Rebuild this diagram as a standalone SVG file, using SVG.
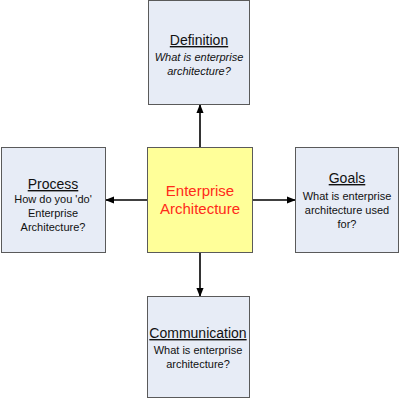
<svg xmlns="http://www.w3.org/2000/svg" width="400" height="400" viewBox="0 0 400 400">
<style>
.box{fill:#e7ecf6;stroke:#5a5a5a;stroke-width:1}
.center{fill:#ffff99;stroke:#5a5a5a;stroke-width:1}
.t{font-family:"Liberation Sans",Arial,sans-serif;font-size:14px;fill:#111;text-anchor:middle;text-decoration:underline}
.s{font-family:"Liberation Sans",Arial,sans-serif;font-size:11px;fill:#111;text-anchor:middle}
.i{font-style:italic}
.c{font-family:"Liberation Sans",Arial,sans-serif;font-size:15px;fill:#ff2a1a;text-anchor:middle}
.conn{stroke:#000;stroke-width:1.6;fill:none;marker-end:url(#ah)}
</style>
<defs>
<marker id="ah" viewBox="0 0 10 10" refX="9" refY="5" markerWidth="9" markerHeight="9" markerUnits="userSpaceOnUse" orient="auto">
<path d="M0,1 L10,5 L0,9 z" fill="#000"/>
</marker>
</defs>
<g id="connectors">
<line class="conn" x1="200" y1="147" x2="200" y2="105"/>
<line class="conn" x1="147" y1="200" x2="106" y2="200"/>
<line class="conn" x1="252" y1="200" x2="295" y2="200"/>
<line class="conn" x1="200" y1="252" x2="200" y2="296"/>
</g>
<g id="center">
<rect class="center" x="147.5" y="147.5" width="105" height="105"/>
<text class="c" x="200" y="196">Enterprise</text>
<text class="c" x="200" y="214">Architecture</text>
</g>
<g id="definition">
<rect class="box" x="148.5" y="0.5" width="101" height="104"/>
<text class="t" x="199" y="45">Definition</text>
<text class="s i" x="199" y="61">What is enterprise</text>
<text class="s i" x="199" y="75">architecture?</text>
</g>
<g id="process">
<rect class="box" x="1.5" y="147.5" width="104" height="105"/>
<text class="t" x="53" y="189">Process</text>
<text class="s" x="53" y="203">How do you 'do'</text>
<text class="s" x="53" y="217">Enterprise</text>
<text class="s" x="53" y="231">Architecture?</text>
</g>
<g id="goals">
<rect class="box" x="295.5" y="147.5" width="103" height="105"/>
<text class="t" x="347" y="183">Goals</text>
<text class="s" x="347" y="200">What is enterprise</text>
<text class="s" x="347" y="214">architecture used</text>
<text class="s" x="347" y="228">for?</text>
</g>
<g id="communication">
<rect class="box" x="147.5" y="296.5" width="102" height="101"/>
<text class="t" x="198" y="338">Communication</text>
<text class="s" x="198" y="354">What is enterprise</text>
<text class="s" x="198" y="368">architecture?</text>
</g>
</svg>
